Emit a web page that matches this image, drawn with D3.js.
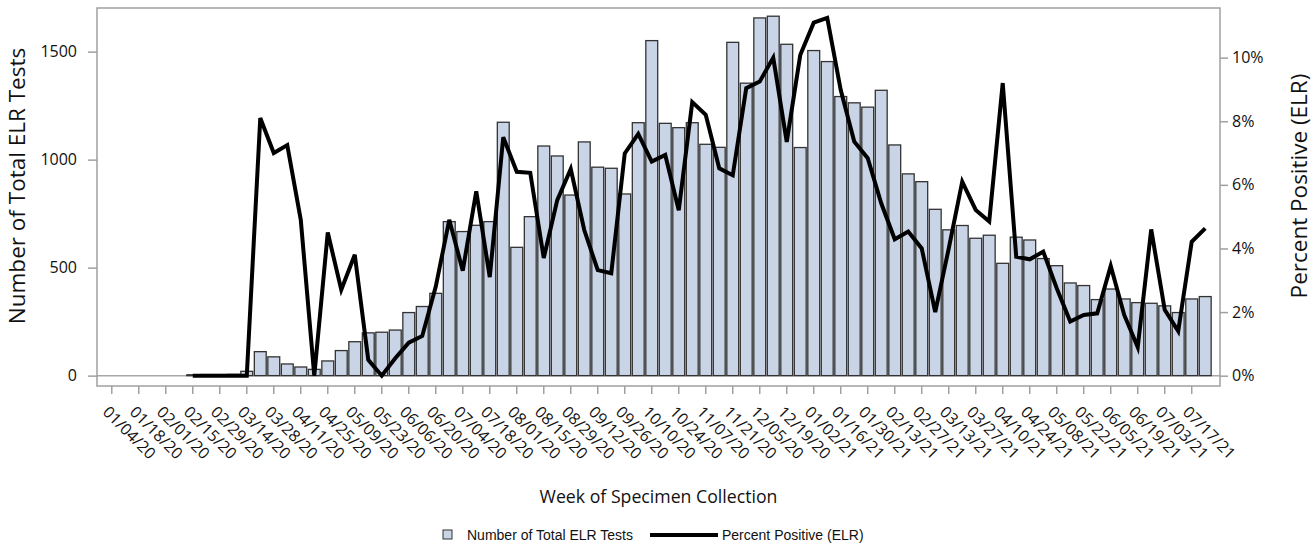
<!DOCTYPE html>
<html>
<head>
<meta charset="utf-8">
<script src="https://cdn.jsdelivr.net/npm/d3@7.9.0/dist/d3.min.js"></script>
<style>
  body { margin: 0; background: #fff; }
  svg { display: block; font-family: "Open Sans", sans-serif; }
</style>
</head>
<body>
<svg width="1315" height="548"></svg>
<script>
// weeks of specimen collection
const weeks = [
  '01/04/20','01/11/20','01/18/20','01/25/20','02/01/20','02/08/20','02/15/20','02/22/20',
  '02/29/20','03/07/20','03/14/20','03/21/20','03/28/20','04/04/20','04/11/20','04/18/20',
  '04/25/20','05/02/20','05/09/20','05/16/20','05/23/20','05/30/20','06/06/20','06/13/20',
  '06/20/20','06/27/20','07/04/20','07/11/20','07/18/20','07/25/20','08/01/20','08/08/20',
  '08/15/20','08/22/20','08/29/20','09/05/20','09/12/20','09/19/20','09/26/20','10/03/20',
  '10/10/20','10/17/20','10/24/20','10/31/20','11/07/20','11/14/20','11/21/20','11/28/20',
  '12/05/20','12/12/20','12/19/20','12/26/20','01/02/21','01/09/21','01/16/21','01/23/21',
  '01/30/21','02/06/21','02/13/21','02/20/21','02/27/21','03/06/21','03/13/21','03/20/21',
  '03/27/21','04/03/21','04/10/21','04/17/21','04/24/21','05/01/21','05/08/21','05/15/21',
  '05/22/21','05/29/21','06/05/21','06/12/21','06/19/21','06/26/21','07/03/21','07/10/21',
  '07/17/21','07/24/21'
];

// number of total ELR tests per week
const tests = [
  null, null, null, null, null, null, 4, 5, 5, 6,
  20, 111, 87, 54, 40, 29, 68, 116, 157, 198,
  201, 211, 292, 320, 381, 713, 667, 696, 713, 1173,
  594, 736, 1063, 1017, 836, 1082, 965, 960, 841, 1171,
  1551, 1168, 1148, 1171, 1071, 1057, 1543, 1354, 1656, 1664,
  1534, 1056, 1505, 1454, 1292, 1263, 1243, 1321, 1068, 934,
  898, 770, 675, 695, 636, 650, 520, 641, 628, 542,
  509, 429, 417, 352, 401, 355, 338, 335, 323, 292,
  355, 366
];

// percent positive (ELR), in %
const pctPositive = [
  null, null, null, null, null, null, 0, 0, 0, 0,
  0, 8.1, 7.0, 7.25, 4.9, 0, 4.5, 2.7, 3.8, 0.5,
  0, 0.55, 1.04, 1.25, 2.8, 4.9, 3.3, 5.8, 3.1, 7.5,
  6.41, 6.38, 3.7, 5.52, 6.5, 4.58, 3.32, 3.22, 6.99, 7.6,
  6.73, 6.94, 5.2, 8.6, 8.2, 6.52, 6.3, 9.04, 9.25, 10.0,
  7.35, 10.08, 11.1, 11.25, 8.98, 7.36, 6.84, 5.42, 4.29, 4.53,
  4.0, 2.0, 4.0, 6.1, 5.21, 4.85, 9.2, 3.74, 3.66, 3.9,
  2.75, 1.7, 1.91, 1.96, 3.45, 1.91, 0.9, 4.6, 2.07, 1.4,
  4.21, 4.63
];

const testTicks = [0, 500, 1000, 1500];
const pctTicks = [0, 2, 4, 6, 8, 10];
const tickWeeks = weeks.filter((d, i) => i % 2 === 0);

const svg = d3.select('svg');
const plotLeft = 97, plotRight = 1220, plotTop = 8, plotBottom = 386;

let x = d3.scaleBand()
  .domain(weeks)
  .range([plotLeft, plotRight])
  .paddingInner(0.12)
  .paddingOuter(0.655);

let yTests = d3.scaleLinear().domain([-48, 1702]).range([plotBottom, plotTop]);
let yPct = d3.scaleLinear().domain([-0.324, 11.56]).range([plotBottom, plotTop]);

// zero reference line
svg.append('line')
  .attr('x1', plotLeft).attr('x2', plotRight)
  .attr('y1', yTests(0)).attr('y2', yTests(0))
  .attr('stroke', '#a8a8a8')
  .attr('stroke-width', 1.5);

// bars
svg.append('g')
  .selectAll('rect')
  .data(weeks.map((w, i) => ({ week: w, value: tests[i] })).filter(d => d.value != null))
  .join('rect')
  .attr('x', d => x(d.week))
  .attr('width', x.bandwidth())
  .attr('y', d => yTests(d.value))
  .attr('height', d => yTests(0) - yTests(d.value))
  .attr('fill', '#c9d4e6')
  .attr('stroke', '#333')
  .attr('stroke-width', 1.3);

// percent positive line
let line = d3.line()
  .defined(d => d.value != null)
  .x(d => x(d.week) + x.bandwidth() / 2)
  .y(d => yPct(d.value));

svg.append('path')
  .datum(weeks.map((w, i) => ({ week: w, value: pctPositive[i] })))
  .attr('d', line)
  .attr('fill', 'none')
  .attr('stroke', '#000')
  .attr('stroke-width', 4);

// frame
svg.append('rect')
  .attr('x', plotLeft).attr('y', plotTop)
  .attr('width', plotRight - plotLeft).attr('height', plotBottom - plotTop)
  .attr('fill', 'none')
  .attr('stroke', '#a0a0a0')
  .attr('stroke-width', 1.5);

// left axis
let gl = svg.append('g')
  .attr('transform', `translate(${plotLeft},0)`)
  .call(d3.axisLeft(yTests).tickValues(testTicks).tickSize(9).tickPadding(11)
    .tickFormat(d3.format('d')));

// right axis
let gr = svg.append('g')
  .attr('transform', `translate(${plotRight},0)`)
  .call(d3.axisRight(yPct).tickValues(pctTicks).tickSize(8).tickPadding(4)
    .tickFormat(d => d + '%'));

// bottom axis
let gb = svg.append('g')
  .attr('transform', `translate(0,${plotBottom})`)
  .call(d3.axisBottom(x).tickValues(tickWeeks).tickSize(8).tickSizeOuter(0));

gb.selectAll('.tick text')
  .attr('text-anchor', 'start')
  .attr('dy', null)
  .attr('y', null)
  .attr('transform', 'translate(-10,27) rotate(45)');

[gl, gr, gb].forEach(g => {
  g.select('.domain').remove();
  g.selectAll('.tick line').attr('stroke', '#a0a0a0').attr('stroke-width', 1.5);
  g.selectAll('.tick text')
    .attr('fill', '#111')
    .style('font-family', '"Open Sans", sans-serif')
    .style('font-size', '16px');
});

// axis titles
svg.append('text')
  .attr('transform', 'translate(25,186) rotate(-90)')
  .attr('text-anchor', 'middle')
  .attr('fill', '#111')
  .style('font-size', '22.5px')
  .text('Number of Total ELR Tests');

svg.append('text')
  .attr('transform', 'translate(1307,186) rotate(-90)')
  .attr('text-anchor', 'middle')
  .attr('fill', '#111')
  .style('font-size', '22.5px')
  .text('Percent Positive (ELR)');

svg.append('text')
  .attr('x', (plotLeft + plotRight) / 2)
  .attr('y', 503)
  .attr('text-anchor', 'middle')
  .attr('fill', '#111')
  .style('font-size', '17.7px')
  .text('Week of Specimen Collection');

// legend
let legend = svg.append('g').style('font-family', '"Liberation Sans", Arial, sans-serif').style('font-size', '14px');
legend.append('rect')
  .attr('x', 443).attr('y', 530).attr('width', 9).attr('height', 9)
  .attr('fill', '#c9d4e6').attr('stroke', '#333').attr('stroke-width', 1);
legend.append('text')
  .attr('x', 467).attr('y', 540)
  .attr('fill', '#111')
  .text('Number of Total ELR Tests');
legend.append('line')
  .attr('x1', 650).attr('x2', 718).attr('y1', 535).attr('y2', 535)
  .attr('stroke', '#000').attr('stroke-width', 4);
legend.append('text')
  .attr('x', 722).attr('y', 540)
  .attr('fill', '#111')
  .text('Percent Positive (ELR)');
</script>
</body>
</html>
